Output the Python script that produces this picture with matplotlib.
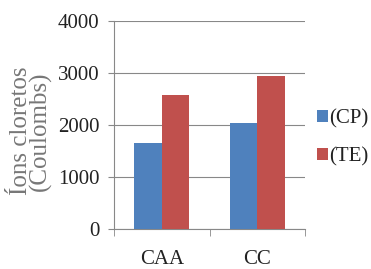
import matplotlib
matplotlib.use("Agg")
import matplotlib.pyplot as plt
import numpy as np

categories = ["CAA", "CC"]
series_names = ["(CP)", "(TE)"]
cp_values = [1660, 2045]
te_values = [2580, 2935]
y_ticks = [0, 1000, 2000, 3000, 4000]
colors = ["#4F81BD", "#C0504D"]

plt.rcParams['font.family'] = ['Liberation Serif', 'DejaVu Serif']

fig = plt.figure(figsize=(3.71, 2.69), dpi=100)
ax = fig.add_axes([114/371, 1-229/269, (305-114)/371, (229-21)/269])

x = np.arange(len(categories))
w = 0.29
ax.bar(x - w/2, cp_values, w, color=colors[0], label=series_names[0], zorder=3)
ax.bar(x + w/2, te_values, w, color=colors[1], label=series_names[1], zorder=3)

ax.set_xlim(-0.5, len(categories) - 0.5)
ax.set_ylim(0, 4000)
ax.set_yticks(y_ticks)
ax.set_yticklabels([str(v) for v in y_ticks], fontsize=15, color='#222222')
ax.set_xticks(x)
ax.set_xticklabels(categories, fontsize=15, color='#222222')
ax.tick_params(axis='x', length=0, pad=15)
ax.set_xticks([-0.5, 0.5, 1.5], minor=True)
ax.tick_params(axis='x', which='minor', length=5, color='#888888')
ax.tick_params(axis='y', length=4.5, color='#888888', pad=6)

ax.yaxis.grid(True, color='#888888', linewidth=0.8, zorder=0)
for s in ['top', 'right']:
    ax.spines[s].set_visible(False)
for s in ['left', 'bottom']:
    ax.spines[s].set_color('#888888')
    ax.spines[s].set_linewidth(0.8)

ax.set_ylabel("Íons cloretos\n(Coulombs)", fontsize=18, color='#777777', linespacing=0.85)
ax.yaxis.set_label_coords((52-114)/191, (229-131)/208)

fig.legend(loc='center left', bbox_to_anchor=(317/371, 1-138/269), frameon=False, fontsize=15,
           handlelength=0.53, handleheight=0.53, handletextpad=0.05, labelspacing=0.9,
           borderaxespad=0, borderpad=0, labelcolor='#222222')

fig.savefig("out.png", dpi=100)
